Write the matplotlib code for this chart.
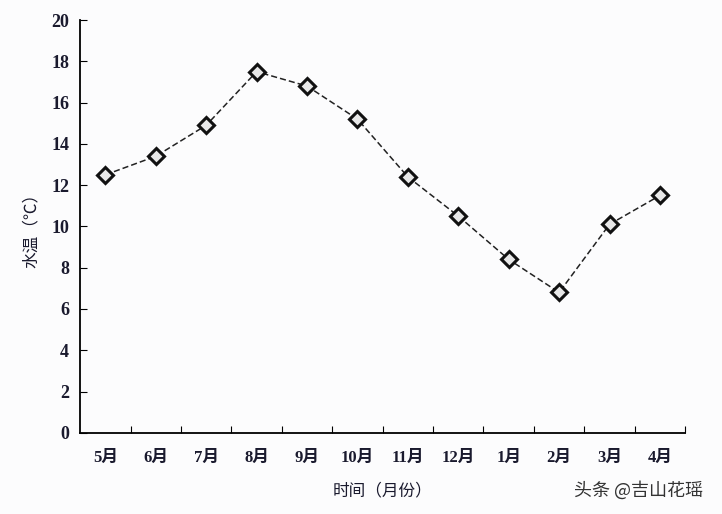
import matplotlib.pyplot as plt

plt.rcParams['font.family'] = ['Liberation Serif', 'Noto Sans CJK SC']

months = ['5月', '6月', '7月', '8月', '9月', '10月', '11月', '12月', '1月', '2月', '3月', '4月']
water_temp = [12.5, 13.4, 14.9, 17.5, 16.8, 15.2, 12.4, 10.5, 8.4, 6.8, 10.1, 11.5]

fig = plt.figure(figsize=(7.22, 5.14), dpi=100, facecolor='#fcfcfd')
ax = fig.add_axes([0.111, 0.158, 0.838, 0.803])
ax.set_facecolor('#fcfcfd')

x = range(len(months))
ax.plot(x, water_temp, linestyle=(0, (4, 2)), color='#222222', linewidth=1.1,
        marker='D', markersize=8, markerfacecolor='#e8e8e8',
        markeredgecolor='#111111', markeredgewidth=2.2)

ax.set_xlim(-0.5, len(months) - 0.5)
ax.set_ylim(0, 20)
ax.set_yticks(range(0, 21, 2))
ax.set_xticks([i + 0.5 for i in range(len(months))], minor=False)
ax.set_xticklabels([])
ax.set_xticks(list(x), minor=True)
ax.set_xticklabels(months, minor=True, fontweight='bold')
ax.tick_params(axis='x', which='minor', length=0, pad=12, labelsize=12, labelcolor='#1a1a2e')
ax.tick_params(axis='x', which='major', direction='in', length=5)
ax.tick_params(axis='y', direction='in', length=5, labelsize=13, pad=8, labelcolor='#1a1a2e')
for lbl in ax.get_yticklabels():
    lbl.set_fontweight('bold')

for side in ['top', 'right']:
    ax.spines[side].set_visible(False)
for side in ['left', 'bottom']:
    ax.spines[side].set_linewidth(1.3)

ax.set_xlabel('时间（月份）', fontsize=12, family='Noto Sans CJK SC', labelpad=12, color='#1a1a2e')
ax.set_ylabel('水温（℃）', fontsize=12, family='Noto Sans CJK SC', labelpad=8, color='#1a1a2e')

fig.text(0.795, 0.035, '头条 @吉山花瑶', fontsize=13, family='Noto Sans CJK SC', color='#333333')

plt.savefig('out.png', dpi=100, facecolor=fig.get_facecolor())
